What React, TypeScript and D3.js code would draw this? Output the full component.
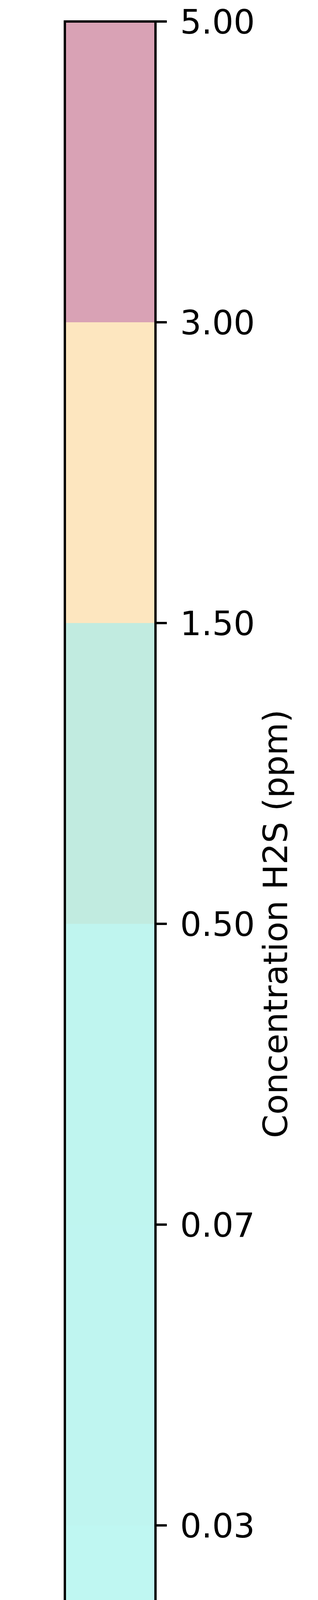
import React from "react";
import * as d3 from "d3";

const tickLabels = ["0.00", "0.03", "0.07", "0.50", "1.50", "3.00", "5.00"];
const binColors = ["#bff7f2", "#bff5f0", "#bff5ef", "#c1ebe0", "#fde6bf", "#d9a2b5"];
const axisLabel = "Concentration H2S (ppm)";

export default function App() {
  const W = 814, H = 4719;
  const x0 = 166, x1 = 398, top = 55, bottom = 4675;
  const y = d3.scaleLinear().domain([0, tickLabels.length - 1]).range([bottom, top]);
  const font = "DejaVu Sans";
  return (
    <svg width={W} height={H} style={{ position: "absolute", left: 0, top: 0, background: "#fff" }}>
      {binColors.map((c, i) => (
        <rect key={i} x={x0} y={y(i + 1)} width={x1 - x0} height={y(i) - y(i + 1)} fill={c} />
      ))}
      <rect x={x0} y={top} width={x1 - x0} height={bottom - top} fill="none" stroke="#000" strokeWidth={6} />
      {tickLabels.map((t, i) => (
        <g key={t}>
          <line x1={x1} x2={x1 + 29} y1={y(i)} y2={y(i)} stroke="#000" strokeWidth={6} />
          <text x={461} y={y(i) + 31} fontFamily={font} fontSize={86} fill="#000">{t}</text>
        </g>
      ))}
      <text transform={`translate(735,${(top + bottom) / 2}) rotate(-90)`} textAnchor="middle"
        fontFamily={font} fontSize={86} fill="#000">{axisLabel}</text>
    </svg>
  );
}
